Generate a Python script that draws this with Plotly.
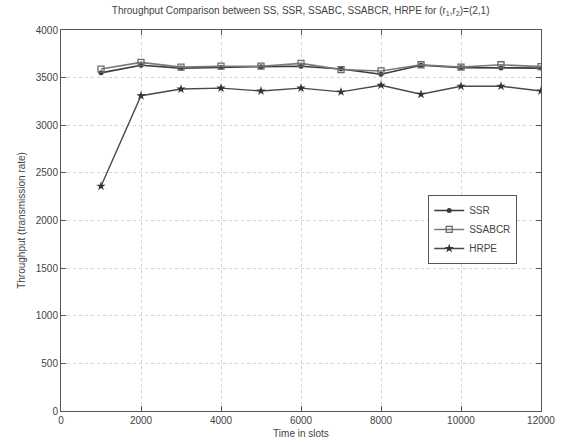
import plotly.graph_objects as go

slots = [1000, 2000, 3000, 4000, 5000, 6000, 7000, 8000, 9000, 10000, 11000, 12000]
ssr = [3550, 3630, 3600, 3610, 3615, 3620, 3590, 3535, 3630, 3605, 3600, 3600]
ssabcr = [3590, 3660, 3610, 3620, 3620, 3650, 3585, 3570, 3635, 3610, 3635, 3615]
hrpe = [2360, 3310, 3380, 3390, 3360, 3390, 3350, 3420, 3325, 3410, 3410, 3360]

xticks = [0, 2000, 4000, 6000, 8000, 10000, 12000]
yticks = [0, 500, 1000, 1500, 2000, 2500, 3000, 3500, 4000]

fnt = "Liberation Sans, Arial, sans-serif"

fig = go.Figure()
fig.add_trace(go.Scatter(x=slots, y=ssr, name="SSR", mode="lines+markers",
                         line=dict(color="#3a3a3a", width=1.6),
                         marker=dict(symbol="circle", size=5, color="#3a3a3a")))
fig.add_trace(go.Scatter(x=slots, y=ssabcr, name="SSABCR", mode="lines+markers",
                         line=dict(color="#7a7a7a", width=1.6),
                         marker=dict(symbol="square-open", size=6, color="#6a6a6a", line=dict(width=1.3))))
fig.add_trace(go.Scatter(x=slots, y=hrpe, name="HRPE", mode="lines+markers",
                         line=dict(color="#4a4a4a", width=1.4),
                         marker=dict(symbol="star", size=7, color="#333333")))

axis_common = dict(showline=True, linecolor="#555", linewidth=1, mirror="ticks",
                   ticks="inside", ticklen=5, tickcolor="#555", automargin=False,
                   showgrid=True, gridcolor="#d4d4d4", griddash="dot", gridwidth=1,
                   zeroline=False, tickfont=dict(size=10, color="#444", family=fnt))

fig.update_layout(
    width=562, height=444,
    margin=dict(l=61, r=21, t=30, b=33),
    paper_bgcolor="white", plot_bgcolor="white",
    title=dict(text="Throughput Comparison between SS, SSR, SSABC, SSABCR, HRPE for (r<sub>1</sub>,r<sub>2</sub>)=(2,1)",
               x=0.535, xanchor="center", y=0.985, yanchor="top",
               font=dict(size=10, color="#444", family=fnt)),
    xaxis=dict(range=[0, 12000], tickvals=xticks, ticktext=[str(t) for t in xticks],
               title=dict(text="Time in slots", font=dict(size=10, color="#444", family=fnt), standoff=4),
               **axis_common),
    yaxis=dict(range=[0, 4000], tickvals=yticks, ticktext=[str(t) for t in yticks],
               title=dict(text="Throughput (transmission rate)", font=dict(size=10, color="#444", family=fnt), standoff=8),
               **axis_common),
    legend=dict(x=0.765, y=0.567, xanchor="left", yanchor="top",
                bgcolor="white", bordercolor="#555", borderwidth=1,
                font=dict(size=10, color="#444", family=fnt),
                tracegroupgap=0, itemwidth=30),
    showlegend=True,
)

fig.write_html("out.html")
